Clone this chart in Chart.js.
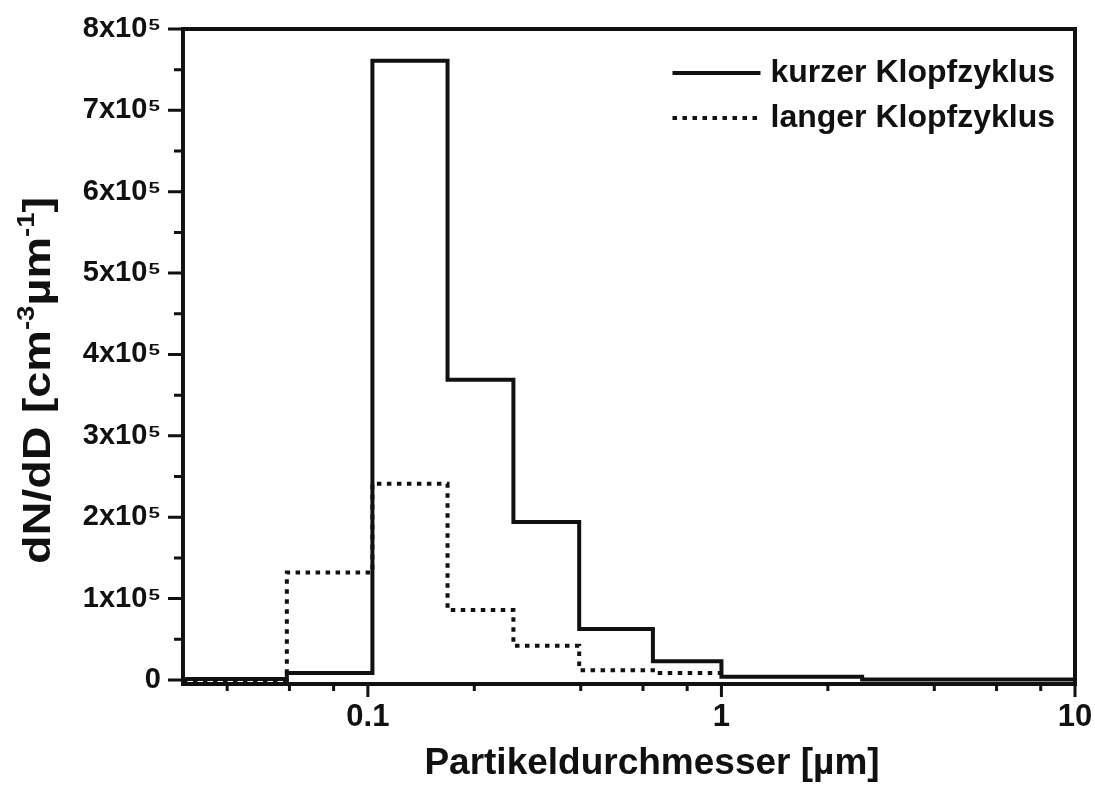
<!DOCTYPE html>
<html>
<head>
<meta charset="utf-8">
<script src="https://cdn.jsdelivr.net/npm/chart.js@4.4.1/dist/chart.umd.min.js"></script>
<style>
  html, body { margin: 0; padding: 0; background: #fff; }
  #wrap { width: 1095px; height: 785px; }
</style>
</head>
<body>
<div id="wrap"><canvas id="sizeChart" width="1095" height="785"></canvas></div>
<script>
// bin edges (µm) and dN/dD per bin for both knocking cycles
var edgesShort = [0.03, 0.059, 0.103, 0.168, 0.258, 0.396, 0.64, 1.0, 2.5, 10];
var valuesShort = [1000, 8600, 761000, 369000, 194000, 62700, 23000, 4000, 500];
var edgesLong = [0.03, 0.059, 0.103, 0.168, 0.258, 0.396, 0.64, 1.0];
var valuesLong = [0, 132000, 241000, 86000, 42000, 12000, 8500];

var labelShort = 'kurzer Klopfzyklus';
var labelLong = 'langer Klopfzyklus';

var xMajorTicks = [0.1, 1, 10];
var xMinorTicks = [0.04, 0.06, 0.08, 0.2, 0.4, 0.6, 0.8, 2, 4, 6, 8];
var yMajorTicks = [0, 100000, 200000, 300000, 400000, 500000, 600000, 700000, 800000];
var yMinorTicks = [50000, 150000, 250000, 350000, 450000, 550000, 650000, 750000];

var xTitle = [{ t: 'Partikeldurchmesser [µm]' }];
var yTitle = [{ t: 'dN/dD [cm' }, { t: '-3', sup: true }, { t: 'µm' }, { t: '-1', sup: true }, { t: ']' }];

var FONT = '"Liberation Sans", Arial, sans-serif';
var INK = '#111';

// step data: each value holds from its edge to the next one
function stepPoints(edges, values) {
    var pts = values.map(function (v, i) { return { x: edges[i], y: v }; });
    pts.push({ x: edges[edges.length - 1], y: values[values.length - 1] });
    return pts;
}

function yLabel(v) {
    if (v === 0) return '0';
    return Math.round(v / 100000) + 'x10\u2075';
}

// text with small raised parts, centred on x = 0 at baseline 0
function drawRich(ctx, parts, size, supSize) {
    var fonts = parts.map(function (p) { return 'bold ' + (p.sup ? supSize : size) + 'px ' + FONT; });
    var total = 0;
    var widths = parts.map(function (p, i) {
        ctx.font = fonts[i];
        var w = ctx.measureText(p.t).width;
        total += w;
        return w;
    });
    var x = -total / 2;
    parts.forEach(function (p, i) {
        ctx.font = fonts[i];
        ctx.fillText(p.t, x, p.sup ? -size * 0.42 : 0);
        x += widths[i];
    });
}

// frame, outward tick marks, axis titles and the legend box
var framePlugin = {
    id: 'frame',
    afterDraw: function (chart) {
        var ctx = chart.ctx;
        var a = chart.chartArea;
        var xs = chart.scales.x;
        var ys = chart.scales.y;
        ctx.save();
        ctx.strokeStyle = INK;
        ctx.fillStyle = INK;
        ctx.lineWidth = 4;
        ctx.strokeRect(a.left, a.top, a.right - a.left, a.bottom - a.top);

        ctx.lineWidth = 3;
        ctx.beginPath();
        xMajorTicks.forEach(function (v) {
            var px = xs.getPixelForValue(v);
            ctx.moveTo(px, a.bottom); ctx.lineTo(px, a.bottom + 13);
        });
        xMinorTicks.forEach(function (v) {
            var px = xs.getPixelForValue(v);
            ctx.moveTo(px, a.bottom); ctx.lineTo(px, a.bottom + 7);
        });
        yMajorTicks.forEach(function (v) {
            var py = ys.getPixelForValue(v);
            ctx.moveTo(a.left, py); ctx.lineTo(a.left - 15, py);
        });
        yMinorTicks.forEach(function (v) {
            var py = ys.getPixelForValue(v);
            ctx.moveTo(a.left, py); ctx.lineTo(a.left - 9, py);
        });
        ctx.stroke();

        // axis titles
        ctx.textBaseline = 'alphabetic';
        ctx.textAlign = 'left';
        ctx.save();
        ctx.translate((a.left + a.right) / 2 + 23, chart.height - 11);
        drawRich(ctx, xTitle, 37, 23);
        ctx.restore();

        ctx.save();
        ctx.translate(50, (a.top + a.bottom) / 2 + 24);
        ctx.rotate(-Math.PI / 2);
        ctx.scale(1.2, 1);
        drawRich(ctx, yTitle, 39, 23);
        ctx.restore();

        // legend
        ctx.font = 'bold 32px ' + FONT;
        ctx.textBaseline = 'middle';
        var sets = chart.data.datasets;
        var maxW = 0;
        sets.forEach(function (ds) { maxW = Math.max(maxW, ctx.measureText(ds.label).width); });
        var textX = a.right - 20 - maxW;
        var lineX1 = textX - 10;
        var lineX0 = lineX1 - 88;
        sets.forEach(function (ds, i) {
            var y = a.top + 44 + i * 45;
            ctx.lineWidth = ds.borderWidth;
            ctx.setLineDash(ds.borderDash || []);
            ctx.beginPath();
            ctx.moveTo(lineX0, y); ctx.lineTo(lineX1, y);
            ctx.stroke();
            ctx.setLineDash([]);
            ctx.fillText(ds.label, textX, y);
        });
        ctx.restore();
    }
};

function noPadding(scale) {
    scale.paddingTop = 0;
    scale.paddingBottom = 0;
    scale.paddingLeft = 0;
    scale.paddingRight = 0;
}

var ctx = document.getElementById('sizeChart').getContext('2d');
var sizeChart = new Chart(ctx, {
    type: 'line',
    data: {
        datasets: [
            {
                label: labelShort,
                data: stepPoints(edgesShort, valuesShort),
                stepped: 'before',
                borderColor: INK,
                borderWidth: 4,
                pointRadius: 0,
                fill: false
            },
            {
                label: labelLong,
                data: stepPoints(edgesLong, valuesLong),
                stepped: 'before',
                borderColor: INK,
                borderWidth: 4,
                borderDash: [4.5, 5.5],
                pointRadius: 0,
                fill: false
            }
        ]
    },
    options: {
        responsive: false,
        animation: false,
        layout: { padding: { top: 29, right: 20, left: 0, bottom: 0 } },
        plugins: {
            legend: { display: false },
            tooltip: { enabled: false }
        },
        scales: {
            x: {
                type: 'logarithmic',
                min: 0.03,
                max: 10,
                afterBuildTicks: function (scale) {
                    scale.ticks = xMajorTicks.map(function (v) { return { value: v }; });
                },
                afterFit: function (scale) {
                    scale.height = 101;
                    noPadding(scale);
                },
                ticks: {
                    autoSkip: false,
                    maxRotation: 0,
                    padding: 15,
                    color: INK,
                    font: { family: FONT, size: 31, weight: 'bold' },
                    callback: function (v) { return String(v); }
                },
                grid: { display: false, drawTicks: false },
                border: { display: false }
            },
            y: {
                min: -5000,
                max: 800000,
                afterBuildTicks: function (scale) {
                    scale.ticks = yMajorTicks.map(function (v) { return { value: v }; });
                },
                afterFit: function (scale) {
                    scale.width = 183;
                    noPadding(scale);
                },
                ticks: {
                    autoSkip: false,
                    padding: 22,
                    color: INK,
                    font: { family: FONT, size: 29, weight: 'bold' },
                    callback: yLabel
                },
                grid: { display: false, drawTicks: false },
                border: { display: false }
            }
        }
    },
    plugins: [framePlugin]
});
</script>
</body>
</html>
